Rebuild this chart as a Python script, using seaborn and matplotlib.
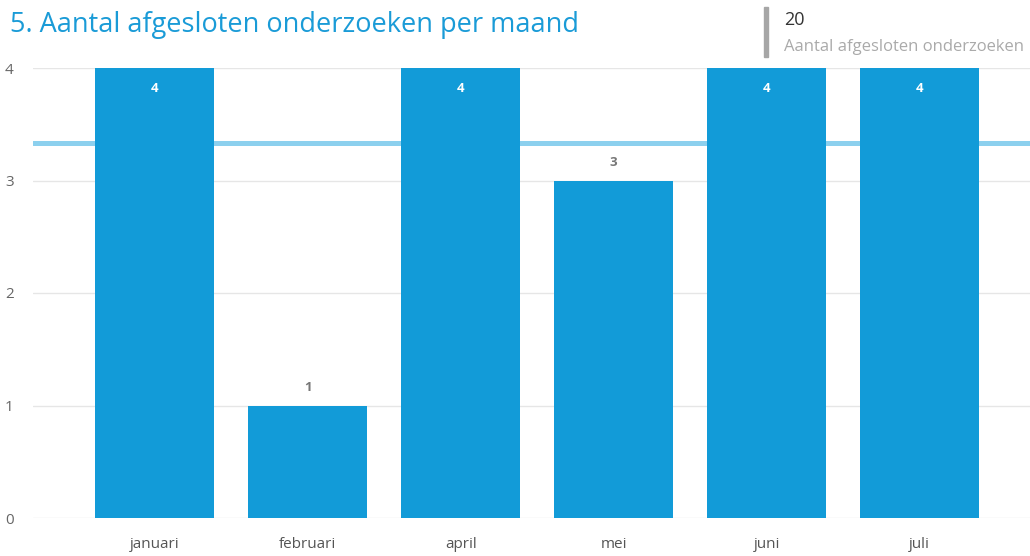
import pandas as pd
import matplotlib.pyplot as plt
import seaborn as sns

months = ["januari", "februari", "april", "mei", "juni", "juli"]
counts = [4, 1, 4, 3, 4, 4]
title = "5. Aantal afgesloten onderzoeken per maand"
kpi_label = "Aantal afgesloten onderzoeken"

df = pd.DataFrame({"maand": months, "aantal": counts})

sns.set_theme(style="white")
plt.rcParams["font.family"] = ["Open Sans", "DejaVu Sans"]

blue = "#129BD8"
fig = plt.figure(figsize=(10.3, 5.56), dpi=100)
ax = fig.add_axes([33 / 1030, 38 / 556, 997 / 1030, 450 / 556])

sns.barplot(data=df, x="maand", y="aantal", color=blue, width=0.78,
            saturation=1, linewidth=0, ax=ax, zorder=2)

# average line
avg = df["aantal"].mean()
ax.axhline(avg, color="#8CD0EE", lw=3.6, zorder=1)

ax.set_ylim(0, 4)
ax.set_xlim(-0.794, 5.72)
ax.set_yticks([0, 1, 2, 3, 4])
ax.yaxis.grid(True, color="#E6E6E6", lw=1)
ax.set_axisbelow(True)
for s in ax.spines.values():
    s.set_visible(False)
ax.set_xlabel("")
ax.set_ylabel("")
ax.tick_params(axis="y", labelsize=11, labelcolor="#666666", pad=14, length=0)
ax.tick_params(axis="x", labelsize=11, labelcolor="#555555", pad=14, length=0)

# bar labels
for i, v in enumerate(counts):
    if v >= 4:
        ax.text(i, v - 0.18, str(v), ha="center", va="center", color="white",
                fontsize=9.5, fontweight="bold")
    else:
        ax.text(i, v + 0.16, str(v), ha="center", va="center", color="#777777",
                fontsize=9.5, fontweight="bold")

fig.text(10 / 1030, 1 - 25 / 556, title, color="#1A9BD7", fontsize=19.5,
         ha="left", va="center")

# KPI card
fig.patches.append(plt.Rectangle((764 / 1030, 1 - 57 / 556), 4 / 1030, 50 / 556,
                                 transform=fig.transFigure, color="#A6A6A6"))
fig.text(784 / 1030, 1 - 20 / 556, str(sum(counts)), color="#333333",
         fontsize=13, ha="left", va="center")
fig.text(784 / 1030, 1 - 47 / 556, kpi_label, color="#AAAAAA",
         fontsize=12, ha="left", va="center")

fig.savefig("out.png", dpi=100)
